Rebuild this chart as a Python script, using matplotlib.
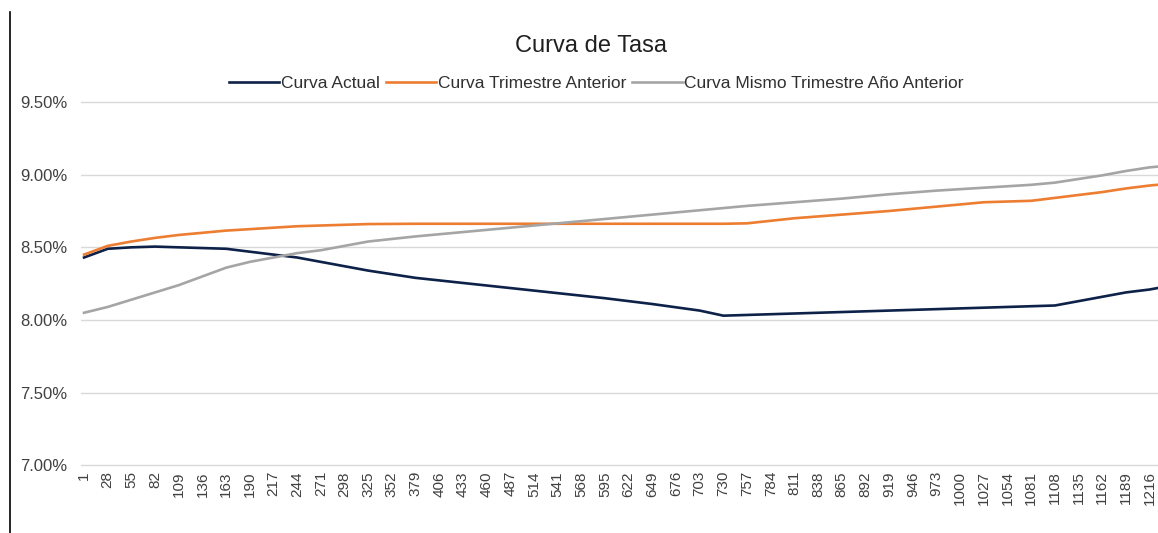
import matplotlib
matplotlib.use("Agg")
import matplotlib.pyplot as plt
from matplotlib.lines import Line2D
from matplotlib.ticker import FuncFormatter

# dias (plazo) y tasas, en %
dias = [1, 28, 55, 82, 109, 136, 163, 190, 217, 244, 271, 298, 325, 379, 433,
        487, 541, 595, 649, 703, 730, 757, 811, 865, 919, 973, 1027, 1081,
        1108, 1135, 1162, 1189, 1216, 1225]
curva_actual = [8.43, 8.49, 8.50, 8.505, 8.50, 8.495, 8.49, 8.47, 8.45, 8.43,
                8.40, 8.37, 8.34, 8.29, 8.255, 8.22, 8.185, 8.15, 8.11, 8.065,
                8.03, 8.035, 8.045, 8.055, 8.065, 8.075, 8.085, 8.095, 8.10,
                8.13, 8.16, 8.19, 8.21, 8.22]
curva_trim_ant = [8.45, 8.51, 8.54, 8.565, 8.585, 8.60, 8.615, 8.625, 8.635,
                  8.645, 8.65, 8.655, 8.66, 8.662, 8.662, 8.662, 8.662, 8.662,
                  8.662, 8.662, 8.662, 8.665, 8.70, 8.725, 8.75, 8.78, 8.81,
                  8.82, 8.84, 8.86, 8.88, 8.905, 8.925, 8.93]
curva_anio_ant = [8.05, 8.09, 8.14, 8.19, 8.24, 8.30, 8.36, 8.40, 8.43, 8.46,
                  8.48, 8.51, 8.54, 8.575, 8.605, 8.635, 8.665, 8.695, 8.725,
                  8.755, 8.77, 8.785, 8.81, 8.835, 8.865, 8.89, 8.91, 8.93,
                  8.945, 8.97, 8.995, 9.025, 9.05, 9.055]
x_ticks = list(range(1, 1217, 27))
y_ticks = [7.0, 7.5, 8.0, 8.5, 9.0, 9.5]

plt.rcParams["font.family"] = ["Liberation Sans", "DejaVu Sans"]

fig = plt.figure(figsize=(11.58, 5.33), dpi=100)
ax = fig.add_axes([0.07, 0.124, 0.93, 0.753])

ax.plot(dias, curva_actual, color="#0D2149", lw=1.9, label="Curva Actual")
ax.plot(dias, curva_trim_ant, color="#ED7D31", lw=1.9, label="Curva Trimestre Anterior")
ax.plot(dias, curva_anio_ant, color="#A5A5A5", lw=1.9, label="Curva Mismo Trimestre Año Anterior")

ax.set_xlim(-2.4, 1225.5)
ax.set_ylim(6.99, 9.75)
ax.set_yticks(y_ticks)
ax.yaxis.set_major_formatter(FuncFormatter(lambda v, p: "%.2f%%" % v))
ax.set_xticks(x_ticks)
ax.set_xticklabels([str(t) for t in x_ticks], rotation=90)
ax.tick_params(axis="both", length=0, colors="#404040")
ax.tick_params(axis="x", labelsize=11, pad=3)
ax.tick_params(axis="y", labelsize=12, pad=10)
ax.grid(axis="y", color="#D9D9D9", lw=1)
ax.set_axisbelow(True)
for s in ax.spines.values():
    s.set_visible(False)

fig.text(0.51, 0.914, "Curva de Tasa", ha="center", va="center", fontsize=17, color="#202020")
fig.legend(loc="center", bbox_to_anchor=(0.515, 0.844), ncol=3, frameon=False,
           fontsize=12.5, handlelength=2.9, handletextpad=0.1, columnspacing=0.35,
           labelcolor="#303030")

# linea vertical del borde izquierdo
fig.add_artist(Line2D([0.009, 0.009], [0.0, 0.978], color="black", lw=1.2,
                      transform=fig.transFigure))

fig.savefig("out.png", dpi=100)
